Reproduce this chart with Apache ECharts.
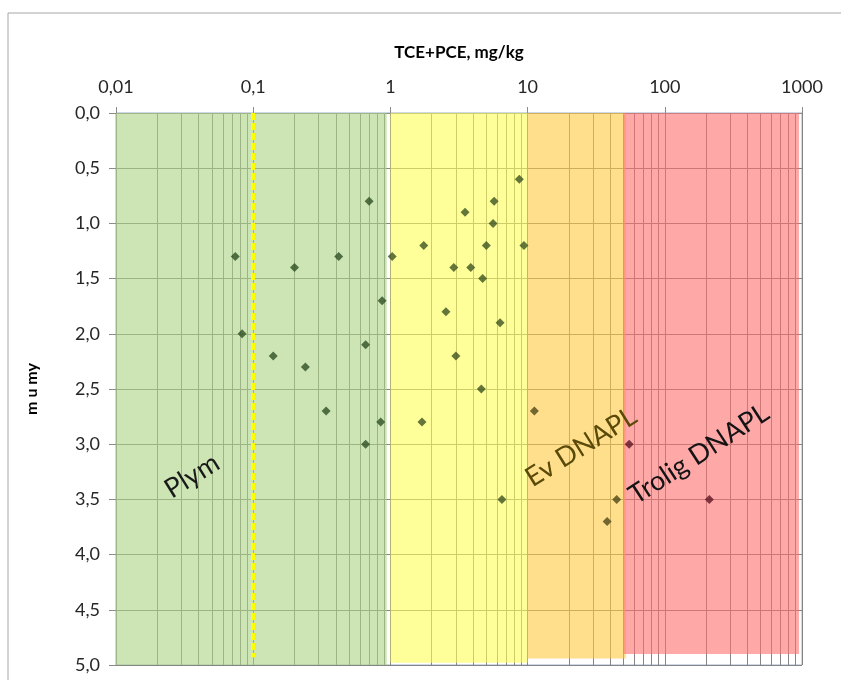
<!DOCTYPE html>
<html>
<head>
<meta charset="utf-8">
<script src="https://cdn.jsdelivr.net/npm/echarts@6/dist/echarts.min.js"></script>
<style>
  html, body { margin: 0; padding: 0; background: #ffffff; }
  #chart { width: 841px; height: 680px; }
</style>
</head>
<body>
<div id="chart"></div>
<script>
// ---- data ----
const concentration = [0.074, 0.083, 0.14, 0.20, 0.24, 0.34, 0.42, 0.66, 0.66, 0.70, 0.85, 0.87,
  1.03, 1.7, 1.75, 2.54, 2.9, 3.0, 3.5, 3.85, 4.6, 4.7, 5.0, 5.6, 5.7, 6.3, 6.5, 8.7, 9.4,
  11.2, 38, 44.6,
  55, 211];
const depth = [1.3, 2.0, 2.2, 1.4, 2.3, 2.7, 1.3, 2.1, 3.0, 0.8, 2.8, 1.7,
  1.3, 2.8, 1.2, 1.8, 1.4, 2.2, 0.9, 1.4, 2.5, 1.5, 1.2, 1.0, 0.8, 1.9, 3.5, 0.6, 1.2,
  2.7, 3.7, 3.5,
  3.0, 3.5];
const xTickLabels = ['0,01', '0,1', '1', '10', '100', '1000'];
const zoneNames = ['Plym', 'Ev DNAPL', 'Trolig DNAPL'];
const zoneFrom = [0.01, 1, 10, 50];
const zoneTo = [0.94, 10, 52, 950];
const zoneDepthTo = [5.0, 4.98, 4.94, 4.9];
const referenceValue = [0.1];
const referenceDepthTo = [4.93];
const decades = [0.01, 0.1, 1, 10, 100];
const minorSteps = [2, 3, 4, 5, 6, 7, 8, 9];

const points = concentration.map((c, i) => [c, depth[i]]);
const zoneColors = ['#acd482', '#ffff55', '#ffca3f', '#ff6e6e'];
const bandData = zoneFrom.map((f, i) => [
  { xAxis: f, yAxis: 0, itemStyle: { color: zoneColors[i], opacity: 0.6 } },
  { xAxis: zoneTo[i], yAxis: zoneDepthTo[i] }
]);
const minorLines = [];
decades.forEach(d => minorSteps.forEach(k => minorLines.push({ xAxis: +(d * k).toPrecision(3) })));

const FONT = 'Lato';
const chart = echarts.init(document.getElementById('chart'));
chart.setOption({
  animation: false,
  backgroundColor: '#ffffff',
  textStyle: { fontFamily: FONT },
  grid: { left: 116, right: 39, top: 113, bottom: 15, show: true, borderColor: '#9cb0cc', borderWidth: 1, backgroundColor: 'transparent' },
  xAxis: {
    type: 'log', logBase: 10, position: 'top', min: 0.01, max: 1000,
    name: 'TCE+PCE, mg/kg', nameLocation: 'middle', nameGap: 52,
    nameTextStyle: { fontFamily: FONT, fontWeight: 'bold', fontSize: 17, color: '#000' },
    axisLine: { show: true, lineStyle: { color: '#8c8c8c' } },
    axisTick: { show: true, inside: false, length: 6, lineStyle: { color: '#8c8c8c' } },
    axisLabel: { fontFamily: FONT, fontSize: 18, color: '#262626', margin: 17,
      formatter: (v, i) => xTickLabels[i] },
    splitLine: { show: true, lineStyle: { color: '#858585', width: 1 } }
  },
  yAxis: {
    type: 'value', inverse: true, min: 0, max: 5, interval: 0.5,
    name: 'm u my', nameLocation: 'middle', nameGap: 76, nameRotate: 90,
    nameTextStyle: { fontFamily: FONT, fontWeight: 'bold', fontSize: 16, color: '#000' },
    axisLine: { show: true, lineStyle: { color: '#8c8c8c' } },
    axisTick: { show: true, inside: false, length: 7, lineStyle: { color: '#8c8c8c' } },
    axisLabel: { fontFamily: FONT, fontSize: 18, color: '#262626', margin: 16,
      formatter: v => v.toFixed(1).replace('.', ',') },
    splitLine: { show: true, lineStyle: { color: '#858585', width: 1 } }
  },
  series: [
    {
      type: 'scatter', data: [], silent: true,
      markLine: { z: 0, silent: true, symbol: 'none', label: { show: false },
        lineStyle: { color: '#858585', width: 1, type: 'solid' }, data: minorLines },
      markArea: { z: 1, silent: true, data: bandData }
    },
    {
      type: 'scatter', z: 3, symbol: 'diamond', symbolSize: 9, data: points,
      itemStyle: {
        color: p => {
          const x = p.value[0];
          if (x < 1) return '#2e5026';
          if (x < 10) return '#3d5220';
          if (x < 50) return '#4d4818';
          return '#5e1522';
        }
      },
      markLine: { z: 4, silent: true, symbol: 'none', label: { show: false },
        lineStyle: { color: '#ffff00', width: 4, type: [7, 3] },
        data: [[{ coord: [referenceValue[0], 0] }, { coord: [referenceValue[0], referenceDepthTo[0]] }]] }
    }
  ],
  graphic: [
    { type: 'rect', z: -10, shape: { x: 8, y: 13, width: 900, height: 800 },
      style: { fill: 'none', stroke: '#a6a6a6', lineWidth: 1 } },
    { type: 'text', z: 100, x: 192, y: 476, rotation: 32 * Math.PI / 180,
      style: { text: zoneNames[0], font: '27px Lato', fill: '#1a1a1a', textAlign: 'center', textVerticalAlign: 'middle' } },
    { type: 'text', z: 100, x: 581, y: 447, rotation: 32 * Math.PI / 180,
      style: { text: zoneNames[1], font: '27px Lato', fill: '#5a4a0a', textAlign: 'center', textVerticalAlign: 'middle' } },
    { type: 'text', z: 100, x: 699, y: 454, rotation: 33 * Math.PI / 180,
      style: { text: zoneNames[2], font: '27px Lato', fill: '#141414', textAlign: 'center', textVerticalAlign: 'middle' } }
  ]
});
</script>
</body>
</html>
